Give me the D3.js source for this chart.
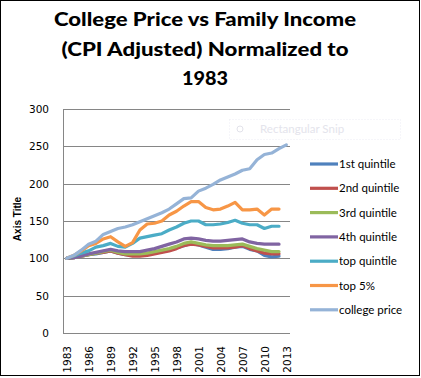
<!DOCTYPE html>
<html>
<head>
<meta charset="utf-8">
<script src="https://cdn.jsdelivr.net/npm/d3@7/dist/d3.min.js"></script>
<style>
  body { margin: 0; background: #fff; }
  svg { display: block; }
</style>
</head>
<body>
<svg id="chart"></svg>
<script>
// years on the category axis (college price runs one year longer)
const years = d3.range(1983, 2014);
const tickYears = [1983, 1986, 1989, 1992, 1995, 1998, 2001, 2004, 2007, 2010, 2013];
const yTicks = [0, 50, 100, 150, 200, 250, 300];

const seriesNames = ["1st quintile", "2nd quintile", "3rd quintile", "4th quintile", "top quintile", "top 5%", "college price"];
const seriesColors = ["#4F81BD", "#C0504D", "#9BBB59", "#8064A2", "#4BACC6", "#F79646", "#95B3D7"];

const q1 = [100, 101, 103, 105, 106, 108, 110, 107, 105, 104, 104, 105, 107, 109, 111, 114, 117, 120, 118, 115, 112, 112, 113, 115, 116, 112, 110, 104, 102, 103];
const q2 = [100, 101, 103, 105, 107, 108, 110, 107, 105, 103, 103, 104, 106, 108, 110, 113, 117, 119, 118, 116, 114, 114, 114, 115, 117, 113, 110, 107, 106, 106];
const q3 = [100, 101, 103, 105, 107, 109, 111, 108, 106, 106, 106, 107, 109, 111, 113, 116, 120, 122, 120, 118, 117, 117, 117, 118, 119, 116, 113, 111, 109, 109];
const q4 = [100, 101, 103, 106, 108, 110, 112, 110, 109, 109, 109, 111, 113, 116, 119, 122, 126, 127, 126, 124, 123, 123, 124, 125, 126, 122, 120, 119, 119, 119];
const qTop = [100, 103, 107, 110, 115, 117, 120, 116, 115, 120, 127, 129, 131, 133, 138, 142, 147, 150, 150, 145, 145, 146, 148, 151, 147, 145, 145, 140, 143, 143];
const top5 = [100, 104, 110, 117, 120, 126, 129, 122, 116, 121, 138, 146, 147, 150, 158, 163, 170, 176, 176, 168, 165, 166, 170, 175, 165, 165, 166, 158, 166, 166];
const college = [100, 104, 111, 119, 123, 132, 136, 140, 142, 145, 149, 153, 157, 161, 166, 173, 180, 181, 190, 194, 199, 205, 209, 213, 218, 220, 232, 239, 241, 247, 252];

const seriesValues = [q1, q2, q3, q4, qTop, top5, college];

const W = 421, H = 378;
const svg = d3.select("#chart").attr("width", W).attr("height", H);

// outer border
svg.append("rect")
  .attr("x", 0.5).attr("y", 0.5)
  .attr("width", 419).attr("height", 375)
  .attr("fill", "#fff")
  .attr("stroke", "#000");

// title (widths)
const titleLines = ["College Price vs Family Income", "(CPI Adjusted) Normalized to", "1983"];
const titleWidths = [302, 287, 46];
svg.append("g").selectAll("text")
  .data(titleLines)
  .enter().append("text")
  .attr("x", 205)
  .attr("y", (d, i) => 26 + i * 29.5)
  .attr("text-anchor", "middle")
  .attr("textLength", (d, i) => titleWidths[i])
  .attr("lengthAdjust", "spacingAndGlyphs")
  .style("font-family", "Lato, 'Open Sans', sans-serif")
  .style("font-weight", "900")
  .style("font-size", "19px")
  .attr("fill", "#000")
  .text(d => d);

// scales
const x = d3.scalePoint()
  .domain(years)
  .range([63, 290])
  .padding(0.5);

const y = d3.scaleLinear()
  .domain([0, 300])
  .range([333, 109]);

// gridlines
svg.append("g").selectAll("line")
  .data(yTicks)
  .enter().append("line")
  .attr("x1", 63).attr("x2", 290)
  .attr("y1", d => Math.round(y(d)) + 0.5)
  .attr("y2", d => Math.round(y(d)) + 0.5)
  .attr("stroke", "#868686")
  .attr("stroke-width", 1);

// vertical axis line
svg.append("line")
  .attr("x1", 63.5).attr("x2", 63.5)
  .attr("y1", y(300)).attr("y2", y(0) + 1)
  .attr("stroke", "#868686");

// y tick labels
const yAxis = d3.axisLeft(y).tickValues(yTicks).tickSize(0).tickPadding(14);
const gy = svg.append("g").attr("transform", "translate(63,0)").call(yAxis);
gy.select(".domain").remove();
gy.selectAll("text")
  .style("font-family", "'DejaVu Sans', Verdana, sans-serif")
  .style("font-size", "10.5px")
  .attr("fill", "#000");

// x tick labels, rotated
const xAxis = d3.axisBottom(x).tickValues(tickYears).tickSize(0).tickPadding(0);
const gx = svg.append("g").attr("transform", "translate(0,333)").call(xAxis);
gx.select(".domain").remove();
gx.selectAll("text")
  .attr("transform", "rotate(-90)")
  .attr("x", -13)
  .attr("y", 0)
  .attr("dy", "0.35em")
  .attr("text-anchor", "end")
  .style("font-family", "'DejaVu Sans', Verdana, sans-serif")
  .style("font-size", "10.5px")
  .attr("fill", "#000");

// axis title
svg.append("text")
  .attr("transform", "translate(21,219) rotate(-90)")
  .attr("text-anchor", "middle")
  .style("font-family", "'Liberation Sans', Arial, sans-serif")
  .style("font-weight", "bold")
  .style("font-size", "10px")
  .text("Axis Title");

// faint snipping tool overlay left in the screenshot
const snip = svg.append("g");
snip.append("rect")
  .attr("x", 229.5).attr("y", 119.5)
  .attr("width", 171).attr("height", 20)
  .attr("fill", "none")
  .attr("stroke", "#ececf4")
  .attr("stroke-dasharray", "1,2");
snip.append("circle")
  .attr("cx", 240).attr("cy", 129).attr("r", 3)
  .attr("fill", "none").attr("stroke", "#e2e2ea");
snip.append("text")
  .attr("x", 260).attr("y", 133)
  .style("font-family", "Lato, sans-serif")
  .style("font-size", "11.5px")
  .attr("fill", "#e4e4ec")
  .text("Rectangular Snip");

// lines
const line = d3.line()
  .x((d, i) => x(years[i]))
  .y(d => y(d));

svg.append("g").selectAll("path")
  .data(seriesValues)
  .enter().append("path")
  .attr("d", line)
  .attr("fill", "none")
  .attr("stroke", (d, i) => seriesColors[i])
  .attr("stroke-width", 3.2)
  .attr("stroke-linejoin", "round")
  .attr("stroke-linecap", "round");

// legend
const legend = svg.append("g").selectAll("g")
  .data(seriesNames)
  .enter().append("g")
  .attr("transform", (d, i) => "translate(310," + (164 + i * 24.3) + ")");

legend.append("line")
  .attr("x1", 0).attr("x2", 28)
  .attr("stroke", (d, i) => seriesColors[i])
  .attr("stroke-width", 3.2);

legend.append("text")
  .attr("x", 29)
  .attr("dy", "0.35em")
  .style("font-family", "Lato, sans-serif")
  .style("font-size", "11.5px")
  .attr("fill", "#000")
  .text(d => d);
</script>
</body>
</html>
